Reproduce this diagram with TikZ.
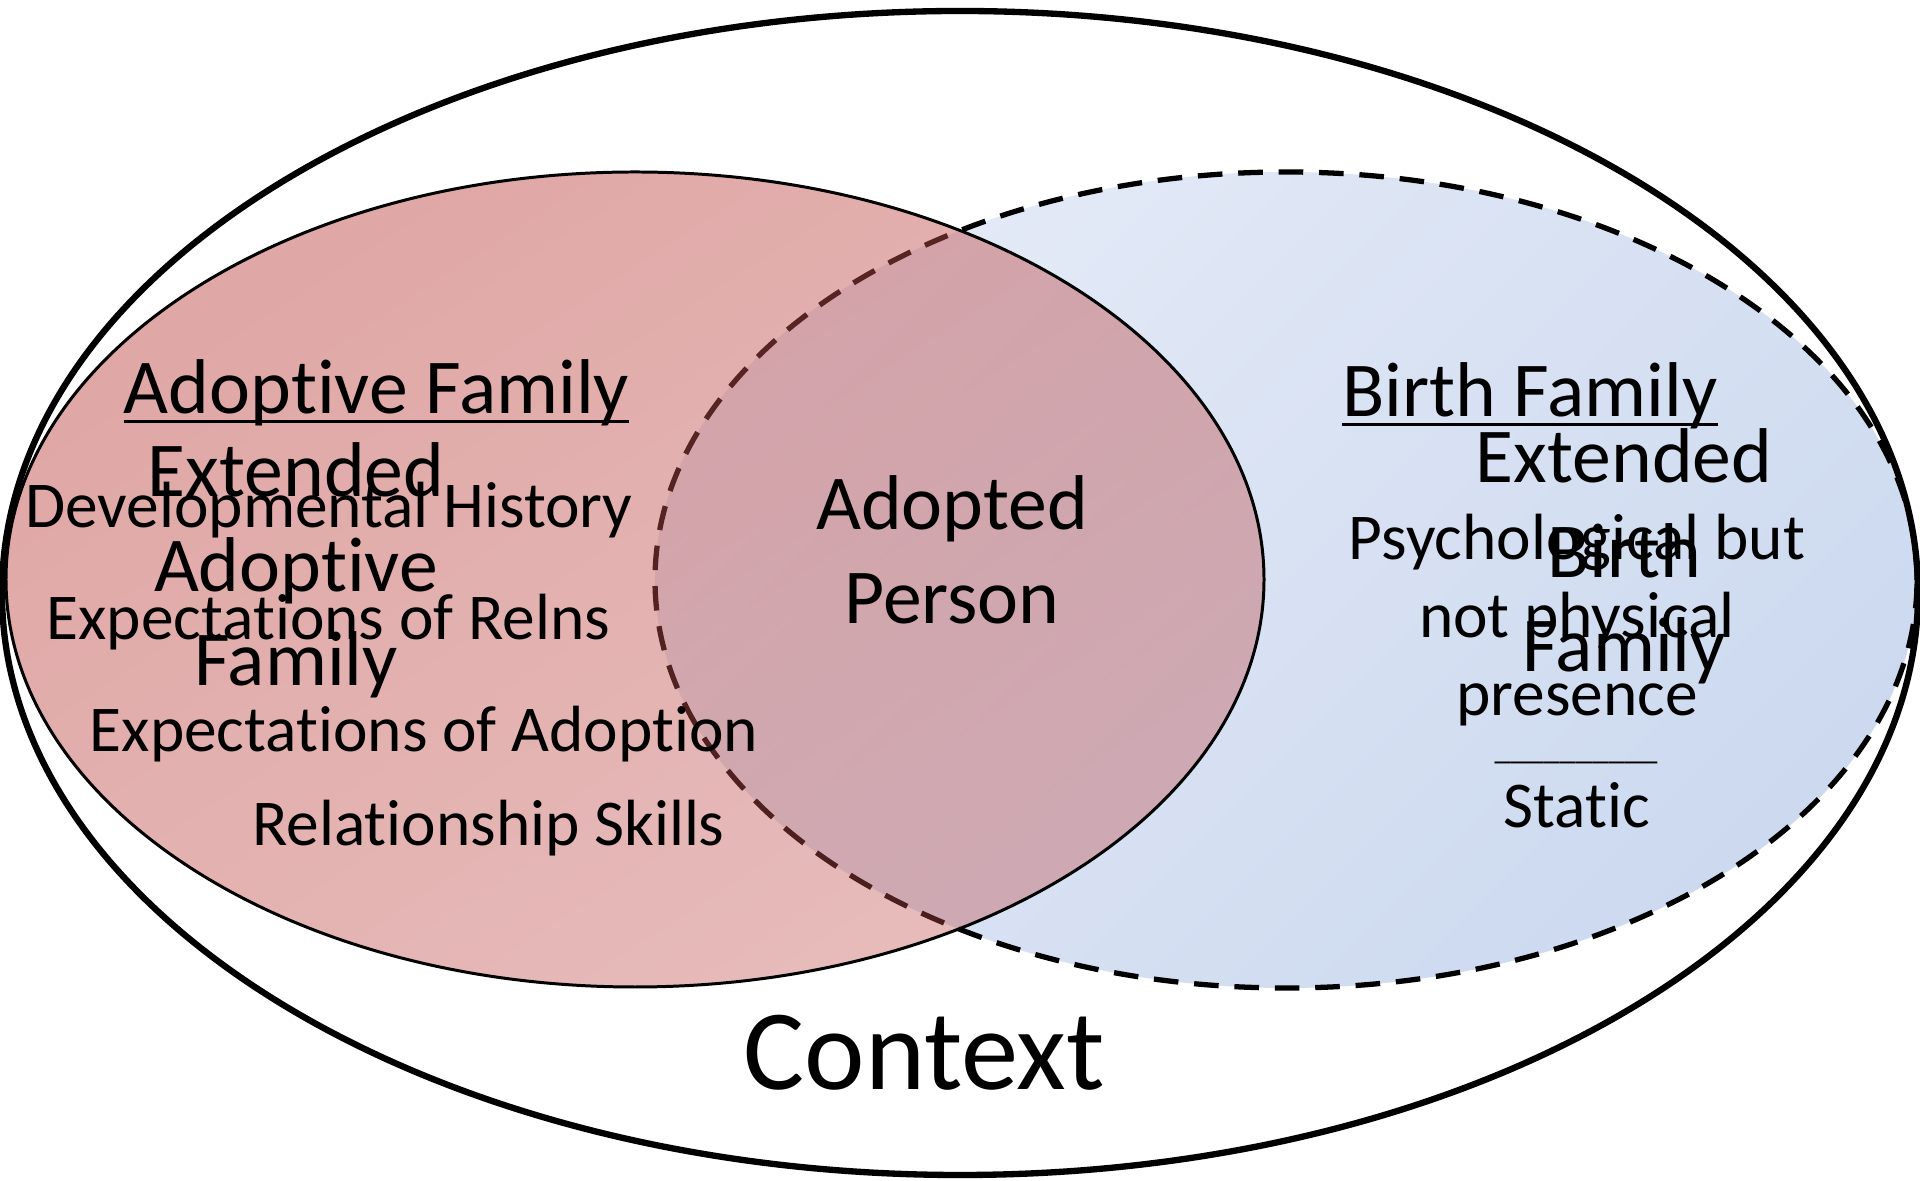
\documentclass[tikz,border=0pt]{standalone}
\usepackage{fontspec}
\setmainfont{Carlito}[Ligatures=NoCommon]
\usepackage{tikz}
\usetikzlibrary{fadings}

\definecolor{adoptred}{HTML}{C0504D}
\definecolor{birthtop}{HTML}{E4EAF7}
\definecolor{birthbottom}{HTML}{CCD9EF}
\tikzfading[name=adoptfade, left color=transparent!50, middle color=transparent!50, right color=transparent!62]
\newcommand{\famline}[1]{\setbox0\hbox{#1}\rlap{\rule[-2.6pt]{\wd0}{0.85pt}}#1}

\begin{document}
\begin{tikzpicture}[
  bigtext/.style={font=\fontsize{22.1}{26.9}\selectfont, align=center, anchor=base},
  smalltext/.style={font=\fontsize{18.6}{22.3}\selectfont, align=center, anchor=base},
  contexttext/.style={font=\fontsize{32.6}{39}\selectfont, anchor=base}]
  \useasboundingbox (0,0) rectangle (19.2,11.81);

  \fill[white] (9.60,5.88) ellipse [x radius=9.58cm, y radius=5.82cm];

  % birth family
  \shade[top color=birthtop, bottom color=birthbottom, shading angle=45]
    (12.86,6.01) ellipse [x radius=6.31cm, y radius=4.08cm];
  \draw[line width=1.5pt, dash pattern=on 7pt off 4.5pt]
    (12.86,6.01) ellipse [x radius=6.31cm, y radius=4.08cm];

  % adoptive family
  \fill[adoptred, path fading=adoptfade, fading angle=-45]
    (6.35,6.015) ellipse [x radius=6.29cm, y radius=4.075cm];
  \draw[line width=0.85pt] (6.35,6.015) ellipse [x radius=6.29cm, y radius=4.075cm];

  % context
  \draw[line width=1.8pt] (9.60,5.88) ellipse [x radius=9.58cm, y radius=5.82cm];

  % multi-line nodes sit on the baseline of their last line
  \node[bigtext] (adoptfam) at (3.765,7.67) {\famline{Adoptive Family}};
  \node[bigtext] (adoptext) at (2.96,4.95) {Extended\\Adoptive\\Family};
  \node[smalltext] (devhist) at (3.29,6.53) {Developmental History};
  \node[smalltext] (expreln) at (3.285,5.41) {Expectations of Relns};
  \node[smalltext] (expadopt) at (4.24,4.29) {Expectations of Adoption};
  \node[smalltext] (relskill) at (4.885,3.35) {Relationship Skills};

  \node[bigtext] (person) at (9.52,5.57) {Adopted\\Person};

  \node[bigtext] (birthfam) at (15.30,7.64) {\famline{Birth Family}};
  \node[bigtext] (birthext) at (16.24,5.09) {Extended\\Birth\\Family};
  \node[smalltext] (psych) at (15.77,4.65) {Psychological but\\not physical\\presence};
  \node[smalltext, font=\fontsize{9.3}{11}\selectfont] (divider) at (15.76,4.21) {\_\_\_\_\_\_\_\_\_\_};
  \node[smalltext] (static) at (15.77,3.53) {Static};

  \node[contexttext] (context) at (9.245,0.91) {Context};
\end{tikzpicture}
\end{document}
